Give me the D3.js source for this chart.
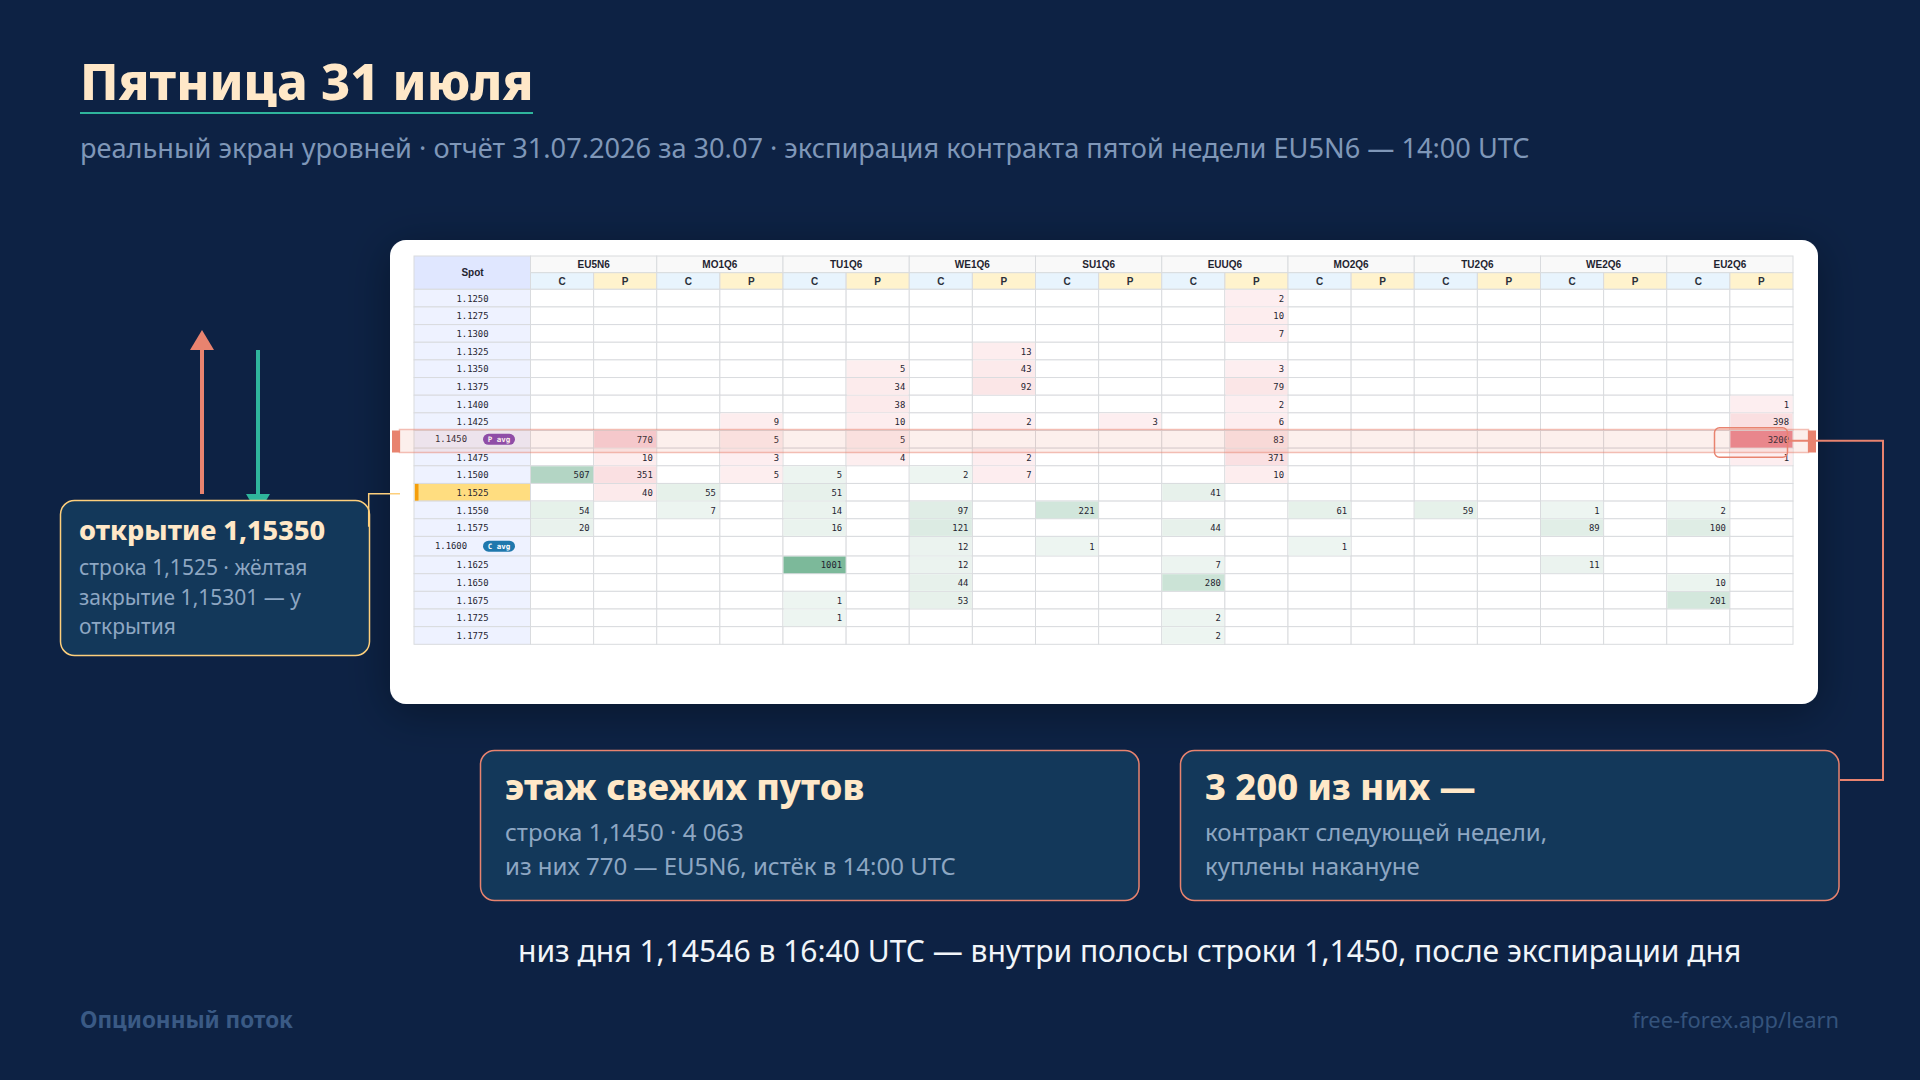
<!DOCTYPE html>
<html lang="ru">
<head>
<meta charset="utf-8">
<title>Пятница 31 июля</title>
<script src="https://cdn.jsdelivr.net/npm/d3@7/dist/d3.min.js"></script>
<style>
  html, body { margin: 0; padding: 0; background: #0d2244; }
  svg { display: block; }
  text { font-family: "Noto Sans", sans-serif; }
  .mono { font-family: "DejaVu Sans Mono", monospace; }
  .head { font-family: "Liberation Sans", sans-serif; font-weight: 700; }
</style>
</head>
<body>
<svg id="slide" width="1920" height="1080"></svg>
<script>
// данные экрана уровней
const contracts = ['EU5N6', 'MO1Q6', 'TU1Q6', 'WE1Q6', 'SU1Q6', 'EUUQ6', 'MO2Q6', 'TU2Q6', 'WE2Q6', 'EU2Q6']
const sides = ['C', 'P']
const strikes = ['1.1250', '1.1275', '1.1300', '1.1325', '1.1350', '1.1375', '1.1400', '1.1425', '1.1450', '1.1475',
  '1.1500', '1.1525', '1.1550', '1.1575', '1.1600', '1.1625', '1.1650', '1.1675', '1.1725', '1.1775']

const callCells = [
  ['EU5N6', '1.1500', 507], ['EU5N6', '1.1550', 54], ['EU5N6', '1.1575', 20],
  ['MO1Q6', '1.1525', 55], ['MO1Q6', '1.1550', 7],
  ['TU1Q6', '1.1500', 5], ['TU1Q6', '1.1525', 51], ['TU1Q6', '1.1550', 14], ['TU1Q6', '1.1575', 16],
  ['TU1Q6', '1.1625', 1001], ['TU1Q6', '1.1675', 1], ['TU1Q6', '1.1725', 1],
  ['WE1Q6', '1.1500', 2], ['WE1Q6', '1.1550', 97], ['WE1Q6', '1.1575', 121], ['WE1Q6', '1.1600', 12],
  ['WE1Q6', '1.1625', 12], ['WE1Q6', '1.1650', 44], ['WE1Q6', '1.1675', 53],
  ['SU1Q6', '1.1550', 221], ['SU1Q6', '1.1600', 1],
  ['EUUQ6', '1.1525', 41], ['EUUQ6', '1.1575', 44], ['EUUQ6', '1.1625', 7], ['EUUQ6', '1.1650', 280],
  ['EUUQ6', '1.1725', 2], ['EUUQ6', '1.1775', 2],
  ['MO2Q6', '1.1550', 61], ['MO2Q6', '1.1600', 1],
  ['TU2Q6', '1.1550', 59],
  ['WE2Q6', '1.1550', 1], ['WE2Q6', '1.1575', 89], ['WE2Q6', '1.1625', 11],
  ['EU2Q6', '1.1550', 2], ['EU2Q6', '1.1575', 100], ['EU2Q6', '1.1650', 10], ['EU2Q6', '1.1675', 201]
]
const putCells = [
  ['EU5N6', '1.1450', 770], ['EU5N6', '1.1475', 10], ['EU5N6', '1.1500', 351], ['EU5N6', '1.1525', 40],
  ['MO1Q6', '1.1425', 9], ['MO1Q6', '1.1450', 5], ['MO1Q6', '1.1475', 3], ['MO1Q6', '1.1500', 5],
  ['TU1Q6', '1.1350', 5], ['TU1Q6', '1.1375', 34], ['TU1Q6', '1.1400', 38], ['TU1Q6', '1.1425', 10],
  ['TU1Q6', '1.1450', 5], ['TU1Q6', '1.1475', 4],
  ['WE1Q6', '1.1325', 13], ['WE1Q6', '1.1350', 43], ['WE1Q6', '1.1375', 92], ['WE1Q6', '1.1425', 2],
  ['WE1Q6', '1.1475', 2], ['WE1Q6', '1.1500', 7],
  ['SU1Q6', '1.1425', 3],
  ['EUUQ6', '1.1250', 2], ['EUUQ6', '1.1275', 10], ['EUUQ6', '1.1300', 7], ['EUUQ6', '1.1350', 3],
  ['EUUQ6', '1.1375', 79], ['EUUQ6', '1.1400', 2], ['EUUQ6', '1.1425', 6], ['EUUQ6', '1.1450', 83],
  ['EUUQ6', '1.1475', 371], ['EUUQ6', '1.1500', 10],
  ['EU2Q6', '1.1400', 1], ['EU2Q6', '1.1425', 398], ['EU2Q6', '1.1450', 3200], ['EU2Q6', '1.1475', 1]
]

const coral = '#e8836f', teal = '#2fb59c', amber = '#fdcf7c', cream = '#ffe8c8'
const boxFill = '#13385a', muted = '#8ea7c3'

const svg = d3.select('#slide')

// тень карточки
svg.append('defs').append('filter')
  .attr('id', 'cardShadow').attr('x', '-10%').attr('y', '-15%').attr('width', '120%').attr('height', '130%')
  .append('feDropShadow')
  .attr('dx', 0).attr('dy', 8).attr('stdDeviation', 22)
  .attr('flood-color', '#000').attr('flood-opacity', 0.35)

const addText = (parent, x, y, str, size, color, weight, anchor) => parent.append('text')
  .attr('x', x).attr('y', y)
  .attr('font-size', size).attr('font-weight', weight || 400)
  .attr('text-anchor', anchor || 'start')
  .attr('fill', color)
  .text(str)

const addBox = (x, y, w, h, stroke) => svg.append('rect')
  .attr('x', x).attr('y', y).attr('width', w).attr('height', h).attr('rx', 14)
  .attr('fill', boxFill).attr('stroke', stroke).attr('stroke-width', 1.5)

/* фон и заголовок */
svg.append('rect').attr('width', 1920).attr('height', 1080).attr('fill', '#0d2244')
addText(svg, 80, 100, 'Пятница 31 июля', 50.6, cream, 800)
svg.append('rect').attr('x', 80).attr('y', 112).attr('width', 453).attr('height', 2).attr('fill', teal)
addText(svg, 80, 158, 'реальный экран уровней · отчёт 31.07.2026 за 30.07 · экспирация контракта пятой недели EU5N6 — 14:00 UTC', 27.16, '#7f97b8')

/* карточка с таблицей */
svg.append('rect')
  .attr('x', 390).attr('y', 240).attr('width', 1428).attr('height', 464).attr('rx', 16)
  .attr('fill', '#fff').attr('filter', 'url(#cardShadow)')

const table = svg.append('g')

const xContract = d3.scaleBand().domain(contracts).range([530.5, 1793])
const xSide = d3.scaleBand().domain(sides).range([0, xContract.bandwidth()])
const yStrike = d3.scaleBand().domain(strikes).range([289.3, 642.3])

// строка 1.1600 с бейджем чуть выше остальных
const tallIndex = strikes.indexOf('1.1600')
const rowY = s => yStrike(s) + (strikes.indexOf(s) > tallIndex ? 2 : 0)
const rowH = s => yStrike.bandwidth() + (s === '1.1600' ? 2 : 0)

const callColor = d3.scaleLinear()
  .domain([1, 20, 60, 120, 280, 507, 1001])
  .range(['#edf5f1', '#e9f2ed', '#e6f1ea', '#dcebe3', '#cbe3d6', '#b3d5c4', '#7cb99a'])
const putColor = d3.scaleLinear()
  .domain([1, 10, 83, 398, 770, 3200])
  .range(['#fdeef0', '#fdedee', '#fbe6e7', '#fadfe1', '#f7d3d9', '#ea8791'])

const grid = '#d9dbde'

// шапка
table.append('rect').attr('x', 414).attr('y', 256).attr('width', 116.5).attr('height', 33.3)
  .attr('fill', '#e0e7ff').attr('stroke', grid)
addText(table, 472.5, 276, 'Spot', 10, '#1f2430', 700, 'middle').attr('class', 'head')

table.selectAll('.contractHead').data(contracts).enter().append('rect')
  .attr('class', 'contractHead')
  .attr('x', d => xContract(d)).attr('y', 256)
  .attr('width', xContract.bandwidth()).attr('height', 16.7)
  .attr('fill', '#f9f9f9').attr('stroke', grid)
table.selectAll('.contractName').data(contracts).enter().append('text')
  .attr('class', 'head contractName')
  .attr('x', d => xContract(d) + xContract.bandwidth() / 2).attr('y', 268)
  .attr('text-anchor', 'middle').attr('font-size', 10).attr('fill', '#1f2430')
  .text(d => d)

const sideCols = contracts.flatMap(c => sides.map(s => ({ contract: c, side: s })))
const colX = d => xContract(d.contract) + xSide(d.side)

table.selectAll('.sideHead').data(sideCols).enter().append('rect')
  .attr('class', 'sideHead')
  .attr('x', colX).attr('y', 272.7)
  .attr('width', xSide.bandwidth()).attr('height', 16.6)
  .attr('fill', d => d.side === 'C' ? '#e8f4fd' : '#fff3cd').attr('stroke', grid)
table.selectAll('.sideName').data(sideCols).enter().append('text')
  .attr('class', 'head sideName')
  .attr('x', d => colX(d) + xSide.bandwidth() / 2).attr('y', 284.5)
  .attr('text-anchor', 'middle').attr('font-size', 10).attr('fill', '#2a2f3a')
  .text(d => d.side)

// пустая сетка
const allCells = strikes.flatMap(s => sideCols.map(c => ({ ...c, strike: s })))
table.selectAll('.cell').data(allCells).enter().append('rect')
  .attr('class', 'cell')
  .attr('x', colX).attr('y', d => rowY(d.strike))
  .attr('width', xSide.bandwidth()).attr('height', d => rowH(d.strike))
  .attr('fill', '#fff').attr('stroke', grid)

// ячейки с объёмом
const filled = [
  ...callCells.map(([contract, strike, value]) => ({ contract, strike, value, side: 'C' })),
  ...putCells.map(([contract, strike, value]) => ({ contract, strike, value, side: 'P' }))
]
table.selectAll('.value').data(filled).enter().append('rect')
  .attr('class', 'value')
  .attr('x', d => colX(d) + 0.5).attr('y', d => rowY(d.strike) + 0.5)
  .attr('width', xSide.bandwidth() - 1).attr('height', d => rowH(d.strike) - 1)
  .attr('fill', d => d.side === 'C' ? callColor(d.value) : putColor(d.value))
table.selectAll('.valueText').data(filled).enter().append('text')
  .attr('class', 'mono valueText')
  .attr('x', d => colX(d) + xSide.bandwidth() - 4)
  .attr('y', d => rowY(d.strike) + rowH(d.strike) / 2 + 3.6)
  .attr('text-anchor', 'end').attr('font-size', 8.9).attr('fill', '#1f2430')
  .text(d => d.value)

// колонка страйков
const badges = { '1.1450': { label: 'P avg', color: '#8246b0' }, '1.1600': { label: 'C avg', color: '#1f78ad' } }
table.selectAll('.spot').data(strikes).enter().append('rect')
  .attr('class', 'spot')
  .attr('x', 414).attr('y', rowY)
  .attr('width', 116.5).attr('height', rowH)
  .attr('fill', d => d === '1.1525' ? '#ffdd80' : '#eef2ff').attr('stroke', grid)
table.selectAll('.spotText').data(strikes).enter().append('text')
  .attr('class', 'mono spotText')
  .attr('x', d => badges[d] ? 451 : 472.5)
  .attr('y', d => rowY(d) + rowH(d) / 2 + (badges[d] ? 2.6 : 3.6))
  .attr('text-anchor', 'middle').attr('font-size', 8.9).attr('fill', '#1f2430')
  .text(d => d)
table.append('rect').attr('x', 415).attr('y', rowY('1.1525') + 0.5).attr('width', 3.5)
  .attr('height', rowH('1.1525') - 1).attr('fill', '#f59e0b')

const badgeRows = Object.keys(badges)
table.selectAll('.badge').data(badgeRows).enter().append('rect')
  .attr('class', 'badge')
  .attr('x', 483).attr('y', d => rowY(d) + rowH(d) / 2 - 5.5)
  .attr('width', 32).attr('height', 11).attr('rx', 5.5)
  .attr('fill', d => badges[d].color)
table.selectAll('.badgeText').data(badgeRows).enter().append('text')
  .attr('class', 'mono badgeText')
  .attr('x', 499).attr('y', d => rowY(d) + rowH(d) / 2 + 2.5)
  .attr('text-anchor', 'middle').attr('font-size', 7.5).attr('font-weight', 700).attr('fill', '#fff')
  .text(d => badges[d].label)

/* полоса строки 1.1450 */
const bandY = rowY('1.1450')
svg.append('rect')
  .attr('x', 399.5).attr('y', bandY - 1).attr('width', 1409).attr('height', 23)
  .attr('fill', coral).attr('fill-opacity', 0.13)
  .attr('stroke', coral).attr('stroke-opacity', 0.5).attr('stroke-width', 1.5)
svg.append('rect').attr('x', 392).attr('y', bandY).attr('width', 8).attr('height', 22).attr('fill', coral)
svg.append('rect').attr('x', 1808).attr('y', bandY).attr('width', 8).attr('height', 22).attr('fill', coral)

// рамка вокруг 3200 и выноска к блоку
svg.append('rect')
  .attr('x', 1714.5).attr('y', bandY - 2.7).attr('width', 73).attr('height', 29.4).attr('rx', 5)
  .attr('fill', 'none').attr('stroke', coral).attr('stroke-width', 1.5)
svg.append('path')
  .attr('d', d3.line()([[1788, 440.7], [1883, 440.7], [1883, 780], [1840, 780]]))
  .attr('fill', 'none').attr('stroke', coral).attr('stroke-width', 2)

/* стрелки */
svg.append('line').attr('x1', 202).attr('x2', 202).attr('y1', 494).attr('y2', 350)
  .attr('stroke', coral).attr('stroke-width', 4)
svg.append('path').attr('d', d3.line()([[202, 330], [214, 350], [190, 350]]) + 'Z').attr('fill', coral)
svg.append('line').attr('x1', 258).attr('x2', 258).attr('y1', 350).attr('y2', 494)
  .attr('stroke', teal).attr('stroke-width', 4)
svg.append('path').attr('d', d3.line()([[246, 494], [270, 494], [258, 514]]) + 'Z').attr('fill', teal)

/* блок открытия */
addBox(60.5, 500.5, 309, 155, amber)
svg.append('path')
  .attr('d', d3.line()([[400, 493.7], [368.7, 493.7], [368.7, 526.7]]))
  .attr('fill', 'none').attr('stroke', amber).attr('stroke-width', 1.5)
addText(svg, 79, 540, 'открытие 1,15350', 27.1, cream, 800)
addText(svg, 79, 575, 'строка 1,1525 · жёлтая', 21, muted)
addText(svg, 79, 605, 'закрытие 1,15301 — у', 21, muted)
addText(svg, 79, 634, 'открытия', 21, muted)

/* нижние блоки */
addBox(480.5, 750.5, 658.5, 150, coral)
addText(svg, 505, 800, 'этаж свежих путов', 36.2, cream, 800)
addText(svg, 505, 841, 'строка 1,1450 · 4 063', 24, muted)
addText(svg, 505, 875, 'из них 770 — EU5N6, истёк в 14:00 UTC', 24, muted)

addBox(1180.5, 750.5, 658.5, 150, coral)
addText(svg, 1205, 800, '3 200 из них —', 36.2, cream, 800)
addText(svg, 1205, 841, 'контракт следующей недели,', 24, muted)
addText(svg, 1205, 875, 'куплены накануне', 24, muted)

/* подпись и подвал */
addText(svg, 518, 962, 'низ дня 1,14546 в 16:40 UTC — внутри полосы строки 1,1450, после экспирации дня', 30.05, '#f1f5f9')
addText(svg, 80, 1028, 'Опционный поток', 22.5, '#3a5a85', 700)
addText(svg, 1839, 1028, 'free-forex.app/learn', 21.9, '#34537c', 400, 'end')
</script>
</body>
</html>
